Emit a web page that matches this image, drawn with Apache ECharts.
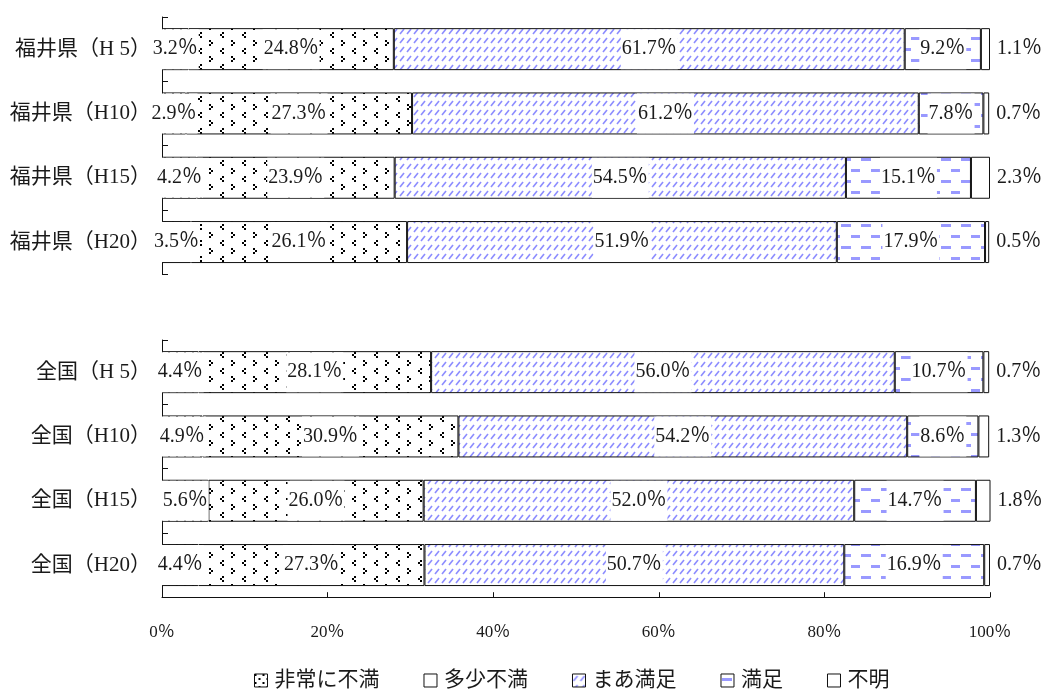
<!DOCTYPE html>
<html>
<head>
<meta charset="utf-8">
<style>
  html, body { margin: 0; padding: 0; background: #fff; }
  #chart { width: 1047px; height: 689px; }
</style>
<script src="https://cdn.jsdelivr.net/npm/echarts@6/dist/echarts.min.js"></script>
</head>
<body>
<div id="chart"></div>
<script>
// Satisfaction survey: Fukui prefecture vs. national, by survey year (%)
const fukuiCategories    = ['福井県（H 5）', '福井県（H10）', '福井県（H15）', '福井県（H20）'];
const nationalCategories = ['全国（H 5）', '全国（H10）', '全国（H15）', '全国（H20）'];
const seriesNames = ['非常に不満', '多少不満', 'まあ満足', '満足', '不明'];
// first four values: Fukui H5..H20, last four: national H5..H20
const veryDissatisfied     = [3.2, 2.9, 4.2, 3.5, 4.4, 4.9, 5.6, 4.4];
const somewhatDissatisfied = [24.8, 27.3, 23.9, 26.1, 28.1, 30.9, 26.0, 27.3];
const fairlySatisfied      = [61.7, 61.2, 54.5, 51.9, 56.0, 54.2, 52.0, 50.7];
const satisfied            = [9.2, 7.8, 15.1, 17.9, 10.7, 8.6, 14.7, 16.9];
const unknown              = [1.1, 0.7, 2.3, 0.5, 0.7, 1.3, 1.8, 0.7];
const xTicks = [0, 20, 40, 60, 80, 100];

const SERIF = "'Liberation Serif', 'Noto Sans CJK JP', serif";

// Pattern fills built on small canvases
function makePattern(w, h, draw) {
  const c = document.createElement('canvas');
  c.width = w; c.height = h;
  const g = c.getContext('2d');
  g.fillStyle = '#fff';
  g.fillRect(0, 0, w, h);
  draw(g);
  return { image: c, repeat: 'repeat' };
}
const dotPattern = makePattern(8, 8, g => {
  g.fillStyle = '#000';
  g.fillRect(0, 0, 2, 2);
  g.fillRect(4, 4, 2, 2);
});
const chevronPattern = makePattern(22, 16, g => {
  g.fillStyle = '#000';
  g.fillRect(2, 0, 2, 2); g.fillRect(0, 2, 2, 2); g.fillRect(2, 4, 2, 2);
  g.fillRect(11, 8, 2, 2); g.fillRect(13, 10, 2, 2); g.fillRect(11, 12, 2, 2);
});
const slashPattern = makePattern(7, 9, g => {
  g.strokeStyle = '#8c8cff';
  g.lineWidth = 1.6;
  g.beginPath();
  g.moveTo(1, 7); g.lineTo(5, 2);
  g.stroke();
});
const dashPattern = makePattern(20, 22, g => {
  g.fillStyle = '#9999ff';
  g.fillRect(1, 4, 10, 3);
  g.fillRect(11, 15, 10, 3);
});
const fills = [dotPattern, chevronPattern, slashPattern, dashPattern, '#ffffff'];
const legendFills = [dotPattern, '#ffffff', slashPattern, dashPattern, '#ffffff'];
const values = [veryDissatisfied, somewhatDissatisfied, fairlySatisfied, satisfied, unknown];

const pct = v => v.toFixed(1) + '％';

function barSeries(groupIndex) {
  return seriesNames.map((name, i) => ({
    name,
    type: 'bar',
    stack: 'total' + groupIndex,
    xAxisIndex: groupIndex,
    yAxisIndex: groupIndex,
    barWidth: 42,
    data: groupIndex === 0 ? values[i].slice(0, 4) : values[i].slice(4),
    itemStyle: { color: fills[i], borderColor: '#111', borderWidth: 1 },
    emphasis: { disabled: true },
    label: {
      show: true,
      position: i === 4 ? 'right' : 'inside',
      distance: 7,
      formatter: p => pct(p.value),
      fontFamily: SERIF,
      fontSize: 20,
      color: '#1a1a1a',
      backgroundColor: i === 4 ? 'transparent' : '#ffffff',
      padding: i === 4 ? 0 : [10, 1]
    }
  }));
}

const BAND = 64.3;
const axisLineStyle = { color: '#111', width: 1 };

function xAxisFor(showLine) {
  return {
    type: 'value',
    min: xTicks[0],
    max: xTicks[xTicks.length - 1],
    interval: 20,
    splitLine: { show: false },
    axisLine: { show: showLine, lineStyle: axisLineStyle },
    axisTick: { show: showLine, inside: true, length: 5, lineStyle: { color: '#111' } },
    axisLabel: {
      show: showLine,
      margin: 27,
      fontFamily: SERIF,
      fontSize: 17,
      color: '#1a1a1a',
      formatter: v => v + '％'
    }
  };
}
function yAxisFor(gridIndex, cats) {
  return {
    type: 'category',
    gridIndex,
    inverse: true,
    data: cats,
    axisLine: { show: true, onZero: false, lineStyle: axisLineStyle },
    axisTick: { show: true, inside: true, length: 6, lineStyle: { color: '#111' } },
    axisLabel: { margin: 11, fontFamily: SERIF, fontSize: 21, color: '#1a1a1a' }
  };
}

const chart = echarts.init(document.getElementById('chart'), null, { renderer: 'canvas' });
chart.setOption({
  animation: false,
  backgroundColor: '#ffffff',
  grid: [
    { left: 162, right: 57, top: 17, height: BAND * 4 },
    { left: 162, right: 57, top: 340, height: BAND * 4 }
  ],
  xAxis: [
    Object.assign(xAxisFor(false), { gridIndex: 0 }),
    Object.assign(xAxisFor(true), { gridIndex: 1 })
  ],
  yAxis: [yAxisFor(0, fukuiCategories), yAxisFor(1, nationalCategories)],
  legend: {
    left: 249,
    top: 665,
    itemGap: 44,
    itemWidth: 13,
    itemHeight: 13,
    icon: 'rect',
    textStyle: { fontFamily: SERIF, fontSize: 21, color: '#1a1a1a', padding: [0, 0, 0, 2] },
    data: seriesNames.map((name, i) => ({
      name,
      itemStyle: { color: legendFills[i], borderColor: '#111', borderWidth: 1 }
    }))
  },
  series: barSeries(0).concat(barSeries(1))
});
</script>
</body>
</html>
